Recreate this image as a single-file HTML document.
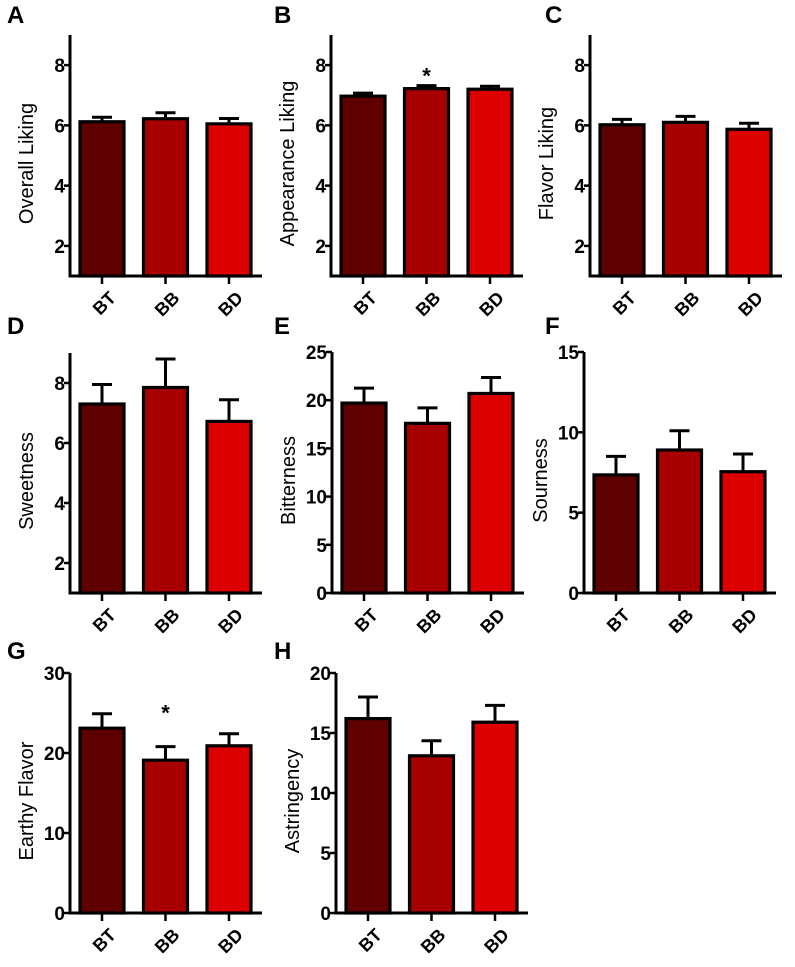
<!DOCTYPE html>
<html><head><meta charset="utf-8">
<style>
html,body{margin:0;padding:0;background:#fff;}
svg{display:block;font-family:"Liberation Sans",Arial,sans-serif;}
</style></head>
<body>
<svg id="fig" width="795" height="967" viewBox="0 0 795 967"></svg>
<script>
const categories = ["BT","BB","BD"];
const colors = ["#5e0000","#a80000","#dc0000"];
const panelLetters = ["A","B","C","D","E","F","G","H"];
const panelTitles = ["Overall Liking","Appearance Liking","Flavor Liking","Sweetness","Bitterness","Sourness","Earthy Flavor","Astringency"];
const meansA = [6.12, 6.22, 6.05];
const errsA = [0.15, 0.2, 0.18];
const meansB = [6.97, 7.22, 7.2];
const errsB = [0.1, 0.1, 0.1];
const meansC = [6.02, 6.1, 5.87];
const errsC = [0.18, 0.2, 0.2];
const meansD = [7.3, 7.85, 6.72];
const errsD = [0.65, 0.95, 0.72];
const meansE = [19.7, 17.6, 20.7];
const errsE = [1.55, 1.6, 1.65];
const meansF = [7.35, 8.9, 7.55];
const errsF = [1.15, 1.2, 1.1];
const meansG = [23.1, 19.1, 20.9];
const errsG = [1.8, 1.7, 1.5];
const meansH = [16.2, 13.1, 15.9];
const errsH = [1.8, 1.25, 1.4];
const ticksLiking = [2, 4, 6, 8];
const ticksE = [0, 5, 10, 15, 20, 25];
const ticksF = [0, 5, 10, 15];
const ticksG = [0, 10, 20, 30];
const ticksH = [0, 5, 10, 15, 20];
const domains = [[1,9],[1,9],[1,9],[1,9],[0,25],[0,15],[0,30],[0,20]];
const starsOn = [[], [1], [], [], [], [], [1], []];

const allMeans = [meansA,meansB,meansC,meansD,meansE,meansF,meansG,meansH];
const allErrs = [errsA,errsB,errsC,errsD,errsE,errsF,errsG,errsH];
const allTicks = [ticksLiking,ticksLiking,ticksLiking,ticksLiking,ticksE,ticksF,ticksG,ticksH];
// layout (not data)
const layout = [
 {ax:70,top:35,bot:276,lx:7,ly:23},
 {ax:331,top:35,bot:276,lx:274,ly:23},
 {ax:590,top:35,bot:276,lx:545,ly:23},
 {ax:70,top:353,bot:593,lx:7,ly:334},
 {ax:332,top:352,bot:593,lx:274,ly:334},
 {ax:584,top:352,bot:593,lx:545,ly:334},
 {ax:70,top:673,bot:913,lx:7,ly:659},
 {ax:336,top:673,bot:913,lx:274,ly:659}
];
const NS="http://www.w3.org/2000/svg";
const svg=document.getElementById('fig');
function mk(tag,attrs,parent){const e=document.createElementNS(NS,tag);for(const k in attrs)e.setAttribute(k,attrs[k]);(parent||svg).appendChild(e);return e;}

for(let p=0;p<8;p++){
  const L=layout[p],[d0,d1]=domains[p];
  const y=v=>L.bot-(v-d0)/(d1-d0)*(L.bot-L.top);
  const x=i=>L.ax+10+i*63.5;
  const g=mk('g',{});
  
  
  const lt=mk('text',{x:L.lx,y:L.ly,'font-size':24,'font-weight':'bold',fill:'#000'},g);
  lt.textContent=panelLetters[p];
  
  
  allMeans[p].forEach((m,i)=>{
    const top=y(m), et=y(m+allErrs[p][i]), cx=x(i)+22;
    const eb=mk('path',{d:`M${cx},${top} V${et} M${cx-10},${et} H${cx+10}`,stroke:'#000','stroke-width':3,fill:'none'},g);
    
    
    const r=mk('rect',{x:x(i),y:top,width:44,height:L.bot-top,fill:colors[i],stroke:'#000','stroke-width':3.2},g);
    
    
    const tk=mk('line',{x1:cx,x2:cx,y1:L.bot,y2:L.bot+8,stroke:'#000','stroke-width':2.5},g);
    
    
    const tx=cx+6, ty=L.bot+14;
    const xl=mk('text',{x:tx,y:ty,'font-size':18,'font-weight':'bold','text-anchor':'end','dominant-baseline':'hanging',transform:`rotate(-45 ${tx} ${ty})`},g);
    xl.textContent=categories[i];
    
    
    if(starsOn[p].includes(i)){
      const st=mk('text',{x:cx,y:et-(p===6?26:2),'font-size':22,'font-weight':'bold','text-anchor':'middle'},g);
      st.textContent='*';
      
      
    }
  });
  const ya=mk('line',{x1:L.ax,x2:L.ax,y1:L.top,y2:L.bot+1.5,stroke:'#000','stroke-width':3},g);
  
  
  const xa=mk('line',{x1:L.ax-1.5,x2:L.ax+192,y1:L.bot,y2:L.bot,stroke:'#000','stroke-width':3},g);
  
  
  allTicks[p].forEach(t=>{
    const ty=y(t);
    const tl=mk('line',{x1:L.ax-6,x2:L.ax,y1:ty,y2:ty,stroke:'#000','stroke-width':2.5},g);
    
    
    const tt=mk('text',{x:L.ax-5,y:ty+7,'font-size':19,'font-weight':'bold','text-anchor':'end'},g);
    tt.textContent=t;
    
    
  });
  const cy=(L.top+L.bot)/2+8, tx=L.ax-37;
  const yt=mk('text',{x:tx,y:cy,'font-size':20,'text-anchor':'middle',transform:`rotate(-90 ${tx} ${cy})`},g);
  yt.textContent=panelTitles[p];
  
  
}
</script>
</body></html>
